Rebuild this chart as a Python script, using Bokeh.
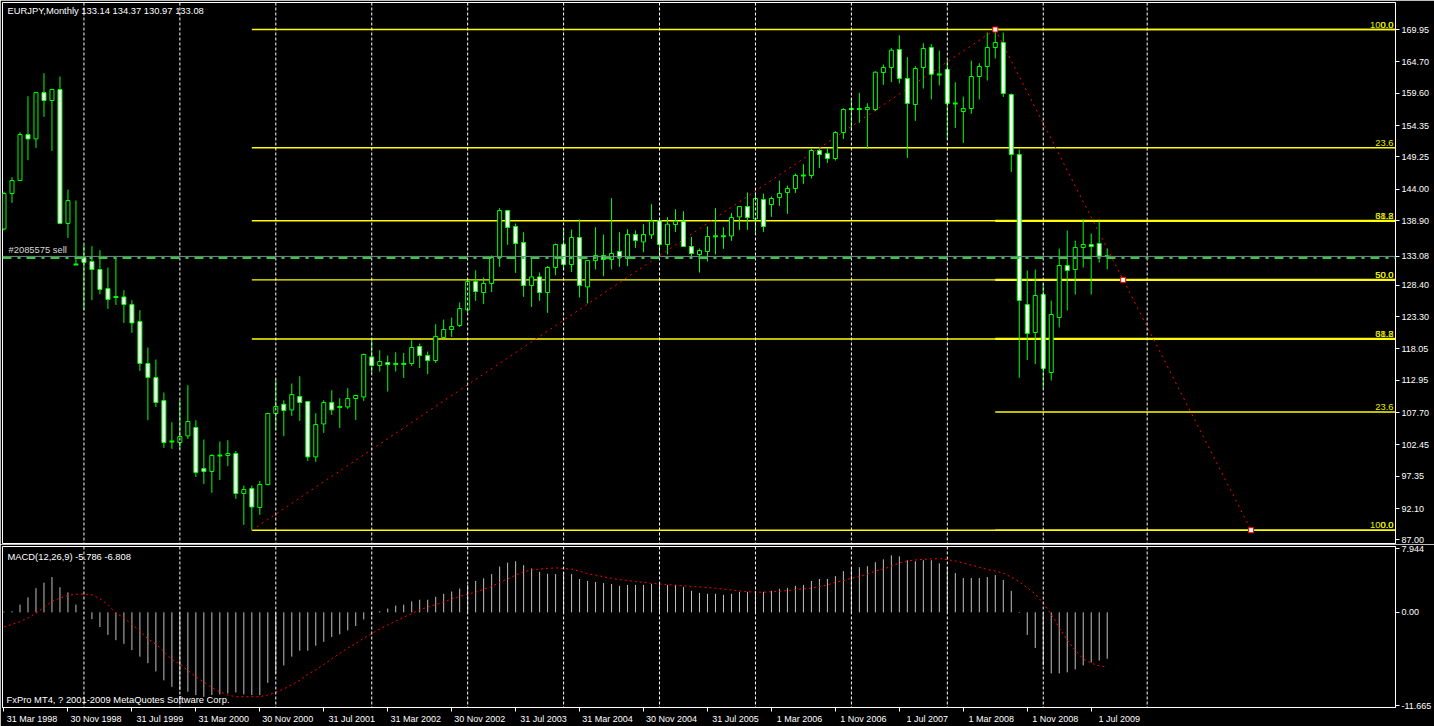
import numpy as np
from bokeh.plotting import figure
from bokeh.models import Range1d, FixedTicker, PrintfTickFormatter, Span, Label
from bokeh.layouts import column
from bokeh.embed import file_html
from bokeh.resources import INLINE

# ---------------- data ----------------
symbol = "EURJPY"
period = "Monthly"

opens = [137.55, 143.30, 145.41, 152.89, 152.17, 159.71, 158.41, 160.20, 138.43, 131.76,
         132.90, 132.25, 130.95, 127.86, 126.50, 126.50, 125.26, 122.50, 115.68, 113.40,
         109.66, 103.00, 102.84, 103.91, 105.28, 98.61, 98.13, 100.73, 100.73, 101.05,
         94.55, 95.36, 92.28, 96.01, 107.55, 109.06, 108.14, 110.32, 109.50, 100.50,
         105.86, 109.34, 108.62, 108.62, 109.99, 110.25, 116.75, 115.35, 115.84, 115.61,
         115.61, 115.68, 118.44, 116.98, 116.16, 119.90, 121.20, 121.85, 124.39, 129.00,
         127.21, 128.68, 132.90, 140.54, 137.94, 135.34, 128.35, 129.75, 127.21, 131.28,
         135.06, 131.76, 136.15, 128.12, 132.41, 133.23, 132.58, 133.88, 132.74, 136.64,
         135.44, 136.58, 138.91, 135.01, 138.26, 138.80, 134.69, 133.39, 133.88, 136.36,
         136.36, 136.41, 139.50, 141.19, 139.17, 142.33, 141.51, 142.65, 143.46, 144.11,
         146.23, 146.23, 150.29, 149.80, 148.99, 153.21, 157.05, 157.05, 156.95, 156.95,
         162.96, 163.77, 166.70, 161.99, 157.76, 163.77, 167.03, 162.64, 163.45, 157.93,
         156.63, 157.11, 162.31, 163.94, 167.03, 167.84, 159.39, 149.64, 125.26, 120.71,
         126.89, 114.21, 123.15, 131.60, 130.95, 134.53, 135.01, 135.18, 133.14]
highs = [143.60, 145.95, 153.26, 159.11, 159.80, 162.85, 160.30, 162.31, 143.95, 142.16,
         134.90, 134.74, 134.09, 131.28, 132.90, 127.59, 125.96, 124.34, 118.28, 116.33,
         110.96, 106.14, 109.71, 112.15, 106.46, 103.33, 100.94, 103.00, 103.21, 101.47,
         95.85, 95.85, 96.60, 107.71, 113.08, 109.71, 112.43, 113.61, 109.60, 107.60,
         109.71, 111.34, 110.04, 111.66, 110.60, 117.30, 119.58, 117.84, 116.98, 117.51,
         117.40, 119.46, 118.93, 117.63, 122.06, 122.83, 123.15, 125.59, 129.21, 130.84,
         129.65, 133.23, 140.91, 140.60, 138.43, 137.01, 132.84, 130.46, 131.49, 135.18,
         137.66, 137.45, 139.08, 132.50, 137.82, 136.64, 142.54, 137.01, 137.50, 137.29,
         138.31, 141.56, 139.00, 139.45, 140.75, 140.43, 136.25, 134.36, 137.94, 140.91,
         137.82, 140.15, 141.20, 143.46, 143.46, 143.30, 142.82, 145.41, 144.60, 146.55,
         148.06, 150.61, 150.61, 150.66, 153.42, 157.16, 158.79, 159.65, 157.97, 163.17,
         164.26, 166.91, 169.02, 165.45, 163.99, 167.72, 167.56, 166.54, 164.96, 161.39,
         159.06, 164.91, 164.47, 169.46, 169.95, 169.46, 159.55, 150.45, 130.79, 130.95,
         128.68, 125.91, 134.36, 137.29, 135.66, 139.08, 136.80, 138.75, 134.37]
lows = [137.30, 141.77, 145.40, 148.71, 150.71, 155.75, 150.22, 138.30, 136.09, 131.70,
        124.34, 125.96, 126.94, 124.55, 125.20, 122.27, 120.65, 114.47, 106.46, 108.62,
        101.96, 101.80, 101.80, 103.43, 97.25, 96.11, 94.65, 96.76, 98.99, 93.68,
        89.45, 88.59, 91.07, 95.90, 104.79, 103.86, 107.16, 106.35, 99.85, 99.69,
        104.40, 107.33, 105.21, 108.30, 106.51, 109.60, 114.05, 114.38, 111.13, 114.38,
        113.34, 115.29, 114.96, 113.94, 115.78, 119.85, 120.00, 121.62, 123.96, 125.85,
        125.36, 127.31, 131.37, 134.95, 130.40, 126.50, 124.87, 125.85, 123.90, 130.03,
        130.84, 130.56, 126.40, 125.43, 130.95, 129.86, 130.95, 131.37, 131.49, 134.46,
        133.76, 135.92, 133.00, 133.39, 137.06, 134.60, 132.74, 130.46, 132.25, 133.39,
        134.30, 135.60, 137.39, 137.39, 136.90, 137.06, 139.50, 141.29, 139.99, 143.40,
        144.86, 145.74, 147.46, 148.27, 148.66, 152.17, 153.47, 154.77, 150.55, 156.72,
        160.95, 161.39, 161.18, 149.09, 155.10, 160.36, 158.58, 160.85, 152.08, 153.96,
        151.52, 156.24, 158.58, 161.66, 165.24, 158.99, 146.81, 113.34, 116.26, 115.61,
        111.62, 112.91, 121.53, 124.29, 126.89, 131.28, 126.89, 132.09, 130.97]
closes = [143.30, 145.41, 152.89, 152.17, 159.71, 158.41, 160.20, 138.43, 142.16, 131.76,
          132.09, 130.95, 127.70, 126.08, 126.50, 125.26, 122.27, 115.68, 113.40, 109.34,
          102.84, 103.00, 103.81, 106.25, 97.96, 98.13, 100.73, 100.73, 101.05, 94.55,
          95.20, 92.37, 96.01, 107.55, 108.69, 108.04, 110.64, 109.34, 100.50, 105.76,
          109.34, 108.14, 108.62, 109.99, 110.48, 117.14, 115.35, 116.00, 115.51, 115.61,
          115.61, 118.28, 116.98, 116.16, 120.06, 121.20, 121.69, 124.61, 129.00, 127.38,
          128.68, 132.90, 140.54, 137.78, 135.18, 128.35, 129.75, 127.21, 131.28, 135.01,
          131.76, 136.15, 128.35, 132.41, 133.23, 132.58, 133.55, 132.90, 136.64, 135.66,
          136.64, 138.80, 135.01, 138.31, 138.80, 134.69, 133.55, 134.04, 136.31, 136.36,
          136.36, 139.40, 141.19, 139.40, 142.49, 137.94, 142.49, 143.30, 144.11, 146.23,
          146.23, 150.29, 149.64, 148.99, 153.21, 156.95, 157.05, 157.05, 157.27, 163.01,
          163.77, 166.59, 161.99, 157.93, 163.61, 166.86, 162.69, 162.64, 157.93, 157.93,
          157.11, 162.31, 163.94, 167.03, 167.84, 159.55, 149.64, 125.91, 120.55, 126.73,
          114.87, 123.64, 131.60, 130.79, 134.53, 135.01, 134.69, 133.14, 133.08]

macd_main = [0.10, 0.14, 0.96, 1.86, 3.01, 3.70, 4.40, 3.13, 2.48, 0.96,
             -0.10, -0.84, -1.83, -2.81, -3.47, -3.92, -4.70, -5.52, -6.34, -7.36,
             -8.47, -9.29, -9.70, -9.90, -10.31, -10.52, -10.31, -10.23, -10.11, -9.98,
             -10.23, -10.31, -10.31, -8.79, -7.65, -6.62, -5.52, -4.78, -4.78, -4.16,
             -3.67, -3.06, -2.73, -2.24, -1.70, -0.89, -0.35, 0.14, 0.47, 0.84,
             0.96, 1.37, 1.57, 1.57, 1.94, 2.31, 2.60, 2.97, 3.42, 3.91,
             4.24, 4.77, 5.71, 6.20, 6.37, 5.88, 5.47, 5.06, 4.81, 4.77,
             4.98, 4.77, 4.16, 3.91, 3.79, 3.66, 3.54, 3.30, 3.42, 3.42,
             3.42, 3.54, 3.54, 3.42, 3.42, 3.17, 2.68, 2.43, 2.31, 2.31,
             2.19, 2.31, 2.56, 2.56, 2.68, 2.56, 2.68, 2.93, 3.05, 3.30,
             3.42, 3.91, 4.16, 4.16, 4.52, 5.14, 5.47, 5.63, 5.75, 6.25,
             6.61, 7.11, 6.98, 6.49, 6.37, 6.49, 6.49, 6.12, 5.67, 4.89,
             4.28, 4.28, 4.28, 4.40, 4.65, 4.03, 2.68, -0.07, -2.81, -4.45,
             -6.62, -7.61, -7.61, -7.48, -7.11, -6.62, -6.25, -6.01, -5.786]
macd_signal = [-1.83, -1.50, -1.17, -0.68, -0.11, 0.63, 1.37, 1.78, 2.11, 2.27,
               2.27, 2.19, 1.70, 0.96, -0.07, -0.68, -1.50, -2.32, -3.30, -3.96,
               -4.86, -5.93, -6.41, -7.24, -8.06, -8.67, -9.37, -9.90, -10.31, -10.52,
               -10.52, -10.52, -10.52, -10.31, -9.94, -9.57, -9.00, -8.47, -7.73, -7.16,
               -6.50, -5.80, -5.11, -4.45, -3.88, -3.22, -2.65, -2.07, -1.58, -1.09,
               -0.60, -0.15, 0.30, 0.67, 0.96, 1.29, 1.66, 1.98, 2.27, 2.52,
               2.89, 3.21, 3.75, 4.16, 4.65, 5.06, 5.27, 5.39, 5.47, 5.55,
               5.47, 5.39, 5.14, 4.81, 4.65, 4.44, 4.24, 4.07, 3.99, 3.83,
               3.75, 3.62, 3.54, 3.46, 3.38, 3.30, 3.25, 3.17, 3.09, 3.01,
               2.89, 2.80, 2.68, 2.56, 2.52, 2.52, 2.56, 2.64, 2.72, 2.84,
               2.93, 3.01, 3.21, 3.42, 3.75, 3.95, 4.24, 4.48, 4.77, 5.14,
               5.39, 5.75, 6.16, 6.41, 6.53, 6.61, 6.66, 6.70, 6.57, 6.41,
               6.16, 5.88, 5.63, 5.34, 5.14, 4.89, 4.40, 3.83, 3.09, 2.27,
               1.16, -0.27, -1.91, -3.47, -4.70, -5.80, -6.34, -6.66, -6.808]

date_labels = ["31 Mar 1998", "30 Nov 1998", "31 Jul 1999", "31 Mar 2000", "30 Nov 2000",
               "31 Jul 2001", "31 Mar 2002", "30 Nov 2002", "31 Jul 2003", "31 Mar 2004",
               "30 Nov 2004", "31 Jul 2005", "1 Mar 2006", "1 Nov 2006", "1 Jul 2007",
               "1 Mar 2008", "1 Nov 2008", "1 Jul 2009"]
label_step = 8
price_ticks = [169.95, 164.70, 159.60, 154.35, 149.25, 144.00, 138.90, 128.40, 123.30,
               118.05, 112.95, 107.70, 102.45, 97.35, 92.10, 87.00]
macd_ticks = [7.944, 0.0, -11.665]
macd_tick_labels = ["7.944", "0.00", "-11.665"]
fibo_levels = [0.0, 23.6, 38.2, 50.0, 61.8, 100.0]
fibo_level_labels = ["0.0", "23.6", "38.2", "50.0", "61.8", "100.0"]
fibo_b_end_bar = 156
order_label = "#2085575 sell"
order_price = 132.84
copyright_text = "FxPro MT4, ? 2001-2009 MetaQuotes Software Corp."

# ---------------- styling ----------------
FONT = "Liberation Sans"
FS_AX = "9px"
FS = "9.4px"
LIME = "#00ff00"
W = 1434

o = np.array(opens); h = np.array(highs); l = np.array(lows); c = np.array(closes)
n = len(c)
x = np.arange(n)
bid = c[-1]

xr = Range1d(-0.1875, 174.0625)
price_lo, price_hi = 86.43, 174.34
macd_lo, macd_hi = -11.86, 8.21
grid_bars = list(range(10, n, 12)) + [n + 4]


def style_axis(a):
    a.axis_line_color = "white"
    a.major_tick_line_color = "white"
    a.major_tick_out = 4
    a.major_tick_in = 0
    a.minor_tick_line_color = None
    a.major_label_text_color = "white"
    a.major_label_text_font = FONT
    a.major_label_text_font_size = FS_AX
    a.major_label_standoff = 2


def add_grid(fig):
    for g in grid_bars:
        fig.add_layout(Span(location=g, dimension="height", line_color="white",
                            line_width=1, line_dash="3 2"))


# ---------------- main price panel ----------------
p = figure(width=W, height=544, x_range=xr, y_range=Range1d(price_lo, price_hi),
           output_backend="svg", toolbar_location=None, x_axis_location=None,
           y_axis_location="right", background_fill_color="black",
           border_fill_color="black", min_border_left=2, min_border_top=2,
           min_border_bottom=1, min_border_right=38)
p.grid.visible = False
p.outline_line_color = "white"
ya = p.yaxis[0]
ya.ticker = FixedTicker(ticks=price_ticks + [round(float(bid), 2)])
ya.formatter = PrintfTickFormatter(format="%.2f")
style_axis(ya)

add_grid(p)

# fibonacci objects
lo_i = int(np.argmin(l)); hi_i = int(np.argmax(h))
f_lo = l[lo_i]; f_hi = h[hi_i]
rng = f_hi - f_lo
xend = xr.end
lev_a = [f_hi - rng * r / 100.0 for r in fibo_levels]
lev_b = [f_lo + rng * r / 100.0 for r in fibo_levels]
p.segment(x0=[lo_i] * len(lev_a), y0=lev_a, x1=[xend] * len(lev_a), y1=lev_a,
          line_color="yellow", line_width=1.4)
b_w = [1.4, 1.4, 2.2, 2.2, 2.2, 1.4]
p.segment(x0=[hi_i] * len(lev_b), y0=lev_b, x1=[xend] * len(lev_b), y1=lev_b,
          line_color="yellow", line_width=b_w)
for lev, txt in list(zip(lev_a, fibo_level_labels)) + list(zip(lev_b, fibo_level_labels)):
    p.add_layout(Label(x=xend, y=lev, x_offset=-2, y_offset=2, text=txt,
                       text_align="right", text_baseline="bottom", text_color="#e8f000",
                       text_font=FONT, text_font_size=FS))

p.line([lo_i, hi_i], [f_lo, f_hi], line_color="red", line_width=1, line_dash="2 4")
p.line([hi_i, fibo_b_end_bar], [f_hi, f_lo], line_color="red", line_width=1, line_dash="2 4")

# bid line & order line
p.add_layout(Span(location=bid, dimension="width", line_color="#778899", line_width=1))
p.add_layout(Span(location=order_price, dimension="width", line_color="#32cd32",
                  line_width=2, line_dash="9 6 3 6"))

# candles
doji = np.abs(c - o) < 0.12
bull = (c > o) & ~doji
bear = (c < o) & ~doji
p.segment(x0=x, y0=l, x1=x, y1=h, line_color=LIME, line_width=1)
p.vbar(x=x[bull], width=0.5, top=c[bull], bottom=o[bull], fill_color="black",
       line_color=LIME, line_width=1)
p.vbar(x=x[bear], width=0.5, top=o[bear], bottom=c[bear], fill_color="white",
       line_color=LIME, line_width=1)
p.segment(x0=x[doji] - 0.3, y0=o[doji], x1=x[doji] + 0.3, y1=c[doji],
          line_color=LIME, line_width=2)

# anchor points of the selected fibo
mid_bar = (hi_i + fibo_b_end_bar) / 2.0
p.scatter([hi_i, mid_bar, fibo_b_end_bar], [f_hi, (f_hi + f_lo) / 2.0, f_lo],
          marker="square", size=5, fill_color="white", line_color="red")

# texts
title = f"{symbol},{period}  {o[-1]:.2f} {h[-1]:.2f} {l[-1]:.2f} {c[-1]:.2f}"
p.add_layout(Label(x=xr.start, y=price_hi, x_offset=5, y_offset=-8, text=title,
                   text_baseline="middle", text_color="white", text_font=FONT,
                   text_font_size=FS))
p.add_layout(Label(x=xr.start, y=bid, x_offset=6, y_offset=1, text=order_label,
                   text_baseline="bottom", text_color="#d8d8d8", text_font=FONT,
                   text_font_size=FS))

# ---------------- MACD panel ----------------
m = figure(width=W, height=182, x_range=xr, y_range=Range1d(macd_lo, macd_hi),
           output_backend="svg", toolbar_location=None, x_axis_location="below",
           y_axis_location="right", background_fill_color="black",
           border_fill_color="black", min_border_left=2, min_border_top=2,
           min_border_bottom=17, min_border_right=38)
m.grid.visible = False
m.outline_line_color = "white"
my = m.yaxis[0]
my.ticker = FixedTicker(ticks=macd_ticks)
my.major_label_overrides = dict(zip(macd_ticks, macd_tick_labels))
style_axis(my)

label_bars = list(range(0, n, label_step))[:len(date_labels)]
mx = m.xaxis[0]
shift = 3.5
mx.ticker = FixedTicker(ticks=[b + shift for b in label_bars], minor_ticks=label_bars)
mx.major_label_overrides = {b + shift: t for b, t in zip(label_bars, date_labels)}
style_axis(mx)
mx.major_tick_line_color = None
mx.major_tick_out = 0
mx.minor_tick_line_color = "white"
mx.minor_tick_out = 4
mx.minor_tick_in = 0
mx.major_label_standoff = 2

add_grid(m)

m.segment(x0=x, y0=np.zeros(n), x1=x, y1=np.array(macd_main), line_color="#c0c0c0",
          line_width=1)
m.line(x, np.array(macd_signal), line_color="red", line_width=1, line_dash="2 3")

m.add_layout(Label(x=xr.start, y=macd_hi, x_offset=5, y_offset=-10,
                   text=f"MACD(12,26,9) {macd_main[-1]:.3f} {macd_signal[-1]:.3f}",
                   text_baseline="middle", text_color="white", text_font=FONT,
                   text_font_size=FS))
m.add_layout(Label(x=xr.start, y=macd_lo, x_offset=4, y_offset=8, text=copyright_text,
                   text_baseline="middle", text_color="white", text_font=FONT,
                   text_font_size=FS))

layout = column(p, m)
open("out.html", "w").write(file_html(layout, INLINE, title="EURJPY Monthly"))
